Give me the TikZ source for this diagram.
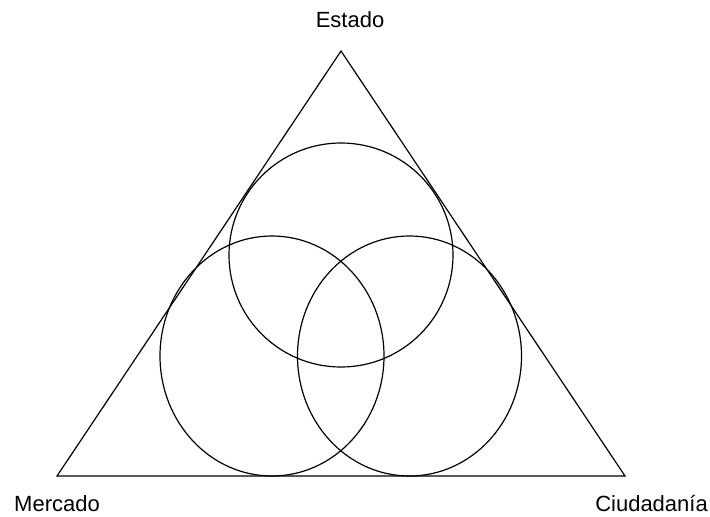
\documentclass[tikz,border=0pt]{standalone}
\usepackage{fontspec}
\setmainfont{Liberation Sans}
\begin{document}
\begin{tikzpicture}[x=1pt,y=-1pt,
  shape line/.style={draw=black,line width=1.2pt},
  lbl/.style={inner sep=0pt,font=\fontsize{22}{26}\selectfont}]
\useasboundingbox (0,0) rectangle (710,517);
\coordinate (T) at (341,51);
\coordinate (L) at (57,476);
\coordinate (R) at (625,476);
\draw[shape line,line join=miter] (T) -- (L) -- (R) -- cycle;
\draw[shape line] (341,255) circle [radius=112];
\draw[shape line] (272,356) ellipse [x radius=112,y radius=120];
\draw[shape line] (409.5,356) ellipse [x radius=112,y radius=120];
\node[lbl,anchor=base] (estado) at (350,27) {Estado};
\node[lbl,anchor=base west] (mercado) at (14,511) {Mercado};
\node[lbl,anchor=base east] (ciud) at (708,511) {Ciudadanía};
\end{tikzpicture}
\end{document}
